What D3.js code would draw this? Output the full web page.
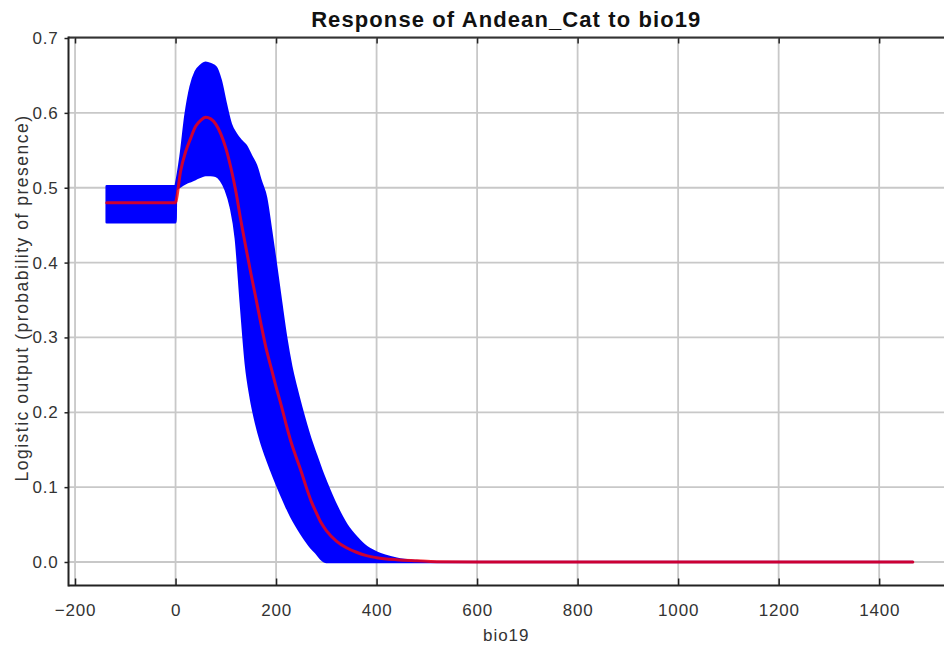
<!DOCTYPE html>
<html>
<head>
<meta charset="utf-8">
<script src="https://cdn.jsdelivr.net/npm/d3@7/dist/d3.min.js"></script>
<style>
html,body{margin:0;padding:0;background:#fff;}
svg{display:block;}
text{font-family:"Liberation Sans",Arial,sans-serif;}
</style>
</head>
<body>
<svg id="chart" width="944" height="648"></svg>
<script>
const title = "Response of Andean_Cat to bio19";
const xLabel = "bio19";
const yLabel = "Logistic output (probability of presence)";
const xTicks = [-200, 0, 200, 400, 600, 800, 1000, 1200, 1400];
const yTicks = [0.0, 0.1, 0.2, 0.3, 0.4, 0.5, 0.6, 0.7];

const xs    = [-137, 0, 1, 10, 20, 30, 40, 50, 60, 70, 80, 90, 100, 110, 120, 130, 140, 150, 160, 170, 180, 190, 200, 210, 220, 230, 240, 250, 260, 270, 280, 290, 300, 320, 340, 360, 380, 400, 440, 480, 520, 600, 800, 1000, 1200, 1467];
const mean  = [0.480, 0.480, 0.482, 0.522, 0.548, 0.566, 0.582, 0.590, 0.594, 0.592, 0.585, 0.572, 0.553, 0.527, 0.495, 0.456, 0.420, 0.385, 0.352, 0.318, 0.286, 0.260, 0.234, 0.210, 0.184, 0.160, 0.140, 0.121, 0.100, 0.081, 0.066, 0.052, 0.042, 0.028, 0.019, 0.013, 0.0085, 0.0058, 0.0030, 0.0016, 0.0004, 0, 0, 0, 0, 0];
const upper = [0.502, 0.502, 0.505, 0.542, 0.598, 0.635, 0.655, 0.663, 0.667, 0.665, 0.661, 0.643, 0.612, 0.585, 0.572, 0.563, 0.556, 0.543, 0.530, 0.508, 0.487, 0.443, 0.396, 0.347, 0.300, 0.262, 0.233, 0.207, 0.183, 0.161, 0.142, 0.123, 0.106, 0.075, 0.050, 0.033, 0.020, 0.0125, 0.0045, 0.0012, 0, 0, 0, 0, 0, 0];
const lower = [0.454, 0.454, 0.497, 0.502, 0.506, 0.509, 0.512, 0.515, 0.517, 0.517, 0.516, 0.510, 0.497, 0.474, 0.432, 0.345, 0.264, 0.218, 0.186, 0.161, 0.141, 0.123, 0.106, 0.090, 0.075, 0.061, 0.049, 0.038, 0.028, 0.019, 0.012, 0.004, 0, 0, 0, 0, 0, 0, 0, 0, 0, 0, 0, 0, 0, 0];

const L = 68.5, R = 944, T = 37.5, B = 585.5;
const svg = d3.select("#chart");

const x = d3.scaleLinear().domain([-213, 1529]).range([L, R]);
const y = d3.scaleLinear().domain([-0.0314, 0.7007]).range([B, T]);

// grid
const grid = svg.append("g");
grid.selectAll("line.v").data(xTicks).enter().append("line")
  .attr("x1", d => x(d)).attr("x2", d => x(d)).attr("y1", T).attr("y2", B)
  .attr("stroke", "#c8c8c8").attr("stroke-width", 1.8);
grid.selectAll("line.h").data(yTicks).enter().append("line")
  .attr("x1", L).attr("x2", R).attr("y1", d => y(d)).attr("y2", d => y(d))
  .attr("stroke", "#c8c8c8").attr("stroke-width", 1.8);

// band
const pts = xs.map((v, i) => ({x: v, m: mean[i], u: upper[i], l: lower[i]}));
const area = d3.area().x(p => x(p.x)).y0(p => y(p.l)).y1(p => y(p.u)).curve(d3.curveMonotoneX);
svg.append("path")
  .datum(pts)
  .attr("d", area)
  .attr("fill", "#0000ff").attr("stroke", "#0000ff").attr("stroke-width", 2.5)
  .attr("stroke-linejoin", "round");

// mean line
svg.append("path")
  .datum(pts)
  .attr("d", d3.line().x(p => x(p.x)).y(p => y(p.m)).curve(d3.curveMonotoneX))
  .attr("fill", "none").attr("stroke", "rgba(255,0,0,0.8)").attr("stroke-width", 3)
  .attr("stroke-linejoin", "round").attr("stroke-linecap", "round");

// axes
const axB = d3.axisBottom(x).tickValues(xTicks).tickSize(-7).tickPadding(18).tickFormat(d3.format("d"));
const gB = svg.append("g").attr("transform", `translate(0,${B})`).call(axB);
const axT = d3.axisTop(x).tickValues(xTicks).tickSize(-6).tickFormat("");
const gT = svg.append("g").attr("transform", `translate(0,${T})`).call(axT);
const axL = d3.axisLeft(y).tickValues(yTicks).tickSize(4).tickPadding(6).tickFormat(d3.format(".1f"));
const gL = svg.append("g").attr("transform", `translate(${L},0)`).call(axL);

[gB, gT, gL].forEach(g => {
  g.select(".domain").remove();
  g.selectAll(".tick line").attr("stroke", "#222").attr("stroke-width", 1.5);
  g.selectAll(".tick text").attr("fill", "#333").style("font-size", "17px").style("letter-spacing", "0.8px");
});

// frame
svg.append("line").attr("x1", L).attr("x2", R).attr("y1", T).attr("y2", T).attr("stroke", "#333").attr("stroke-width", 2);
svg.append("line").attr("x1", L).attr("x2", R).attr("y1", B).attr("y2", B).attr("stroke", "#222").attr("stroke-width", 2);
svg.append("line").attr("x1", L).attr("x2", L).attr("y1", T - 1).attr("y2", B + 1).attr("stroke", "#222").attr("stroke-width", 2);

// labels
svg.append("text").attr("x", (L + R) / 2).attr("y", 27).attr("text-anchor", "middle")
  .style("font-size", "22px").style("font-weight", "bold").style("letter-spacing", "1.1px")
  .attr("fill", "#111").text(title);
svg.append("text").attr("x", (L + R) / 2).attr("y", 641).attr("text-anchor", "middle")
  .style("font-size", "17px").style("letter-spacing", "1px").attr("fill", "#333").text(xLabel);
svg.append("text").attr("transform", `translate(28,298) rotate(-90)`).attr("text-anchor", "middle")
  .style("font-size", "17.5px").style("letter-spacing", "1.5px").attr("fill", "#333").text(yLabel);
</script>
</body>
</html>
